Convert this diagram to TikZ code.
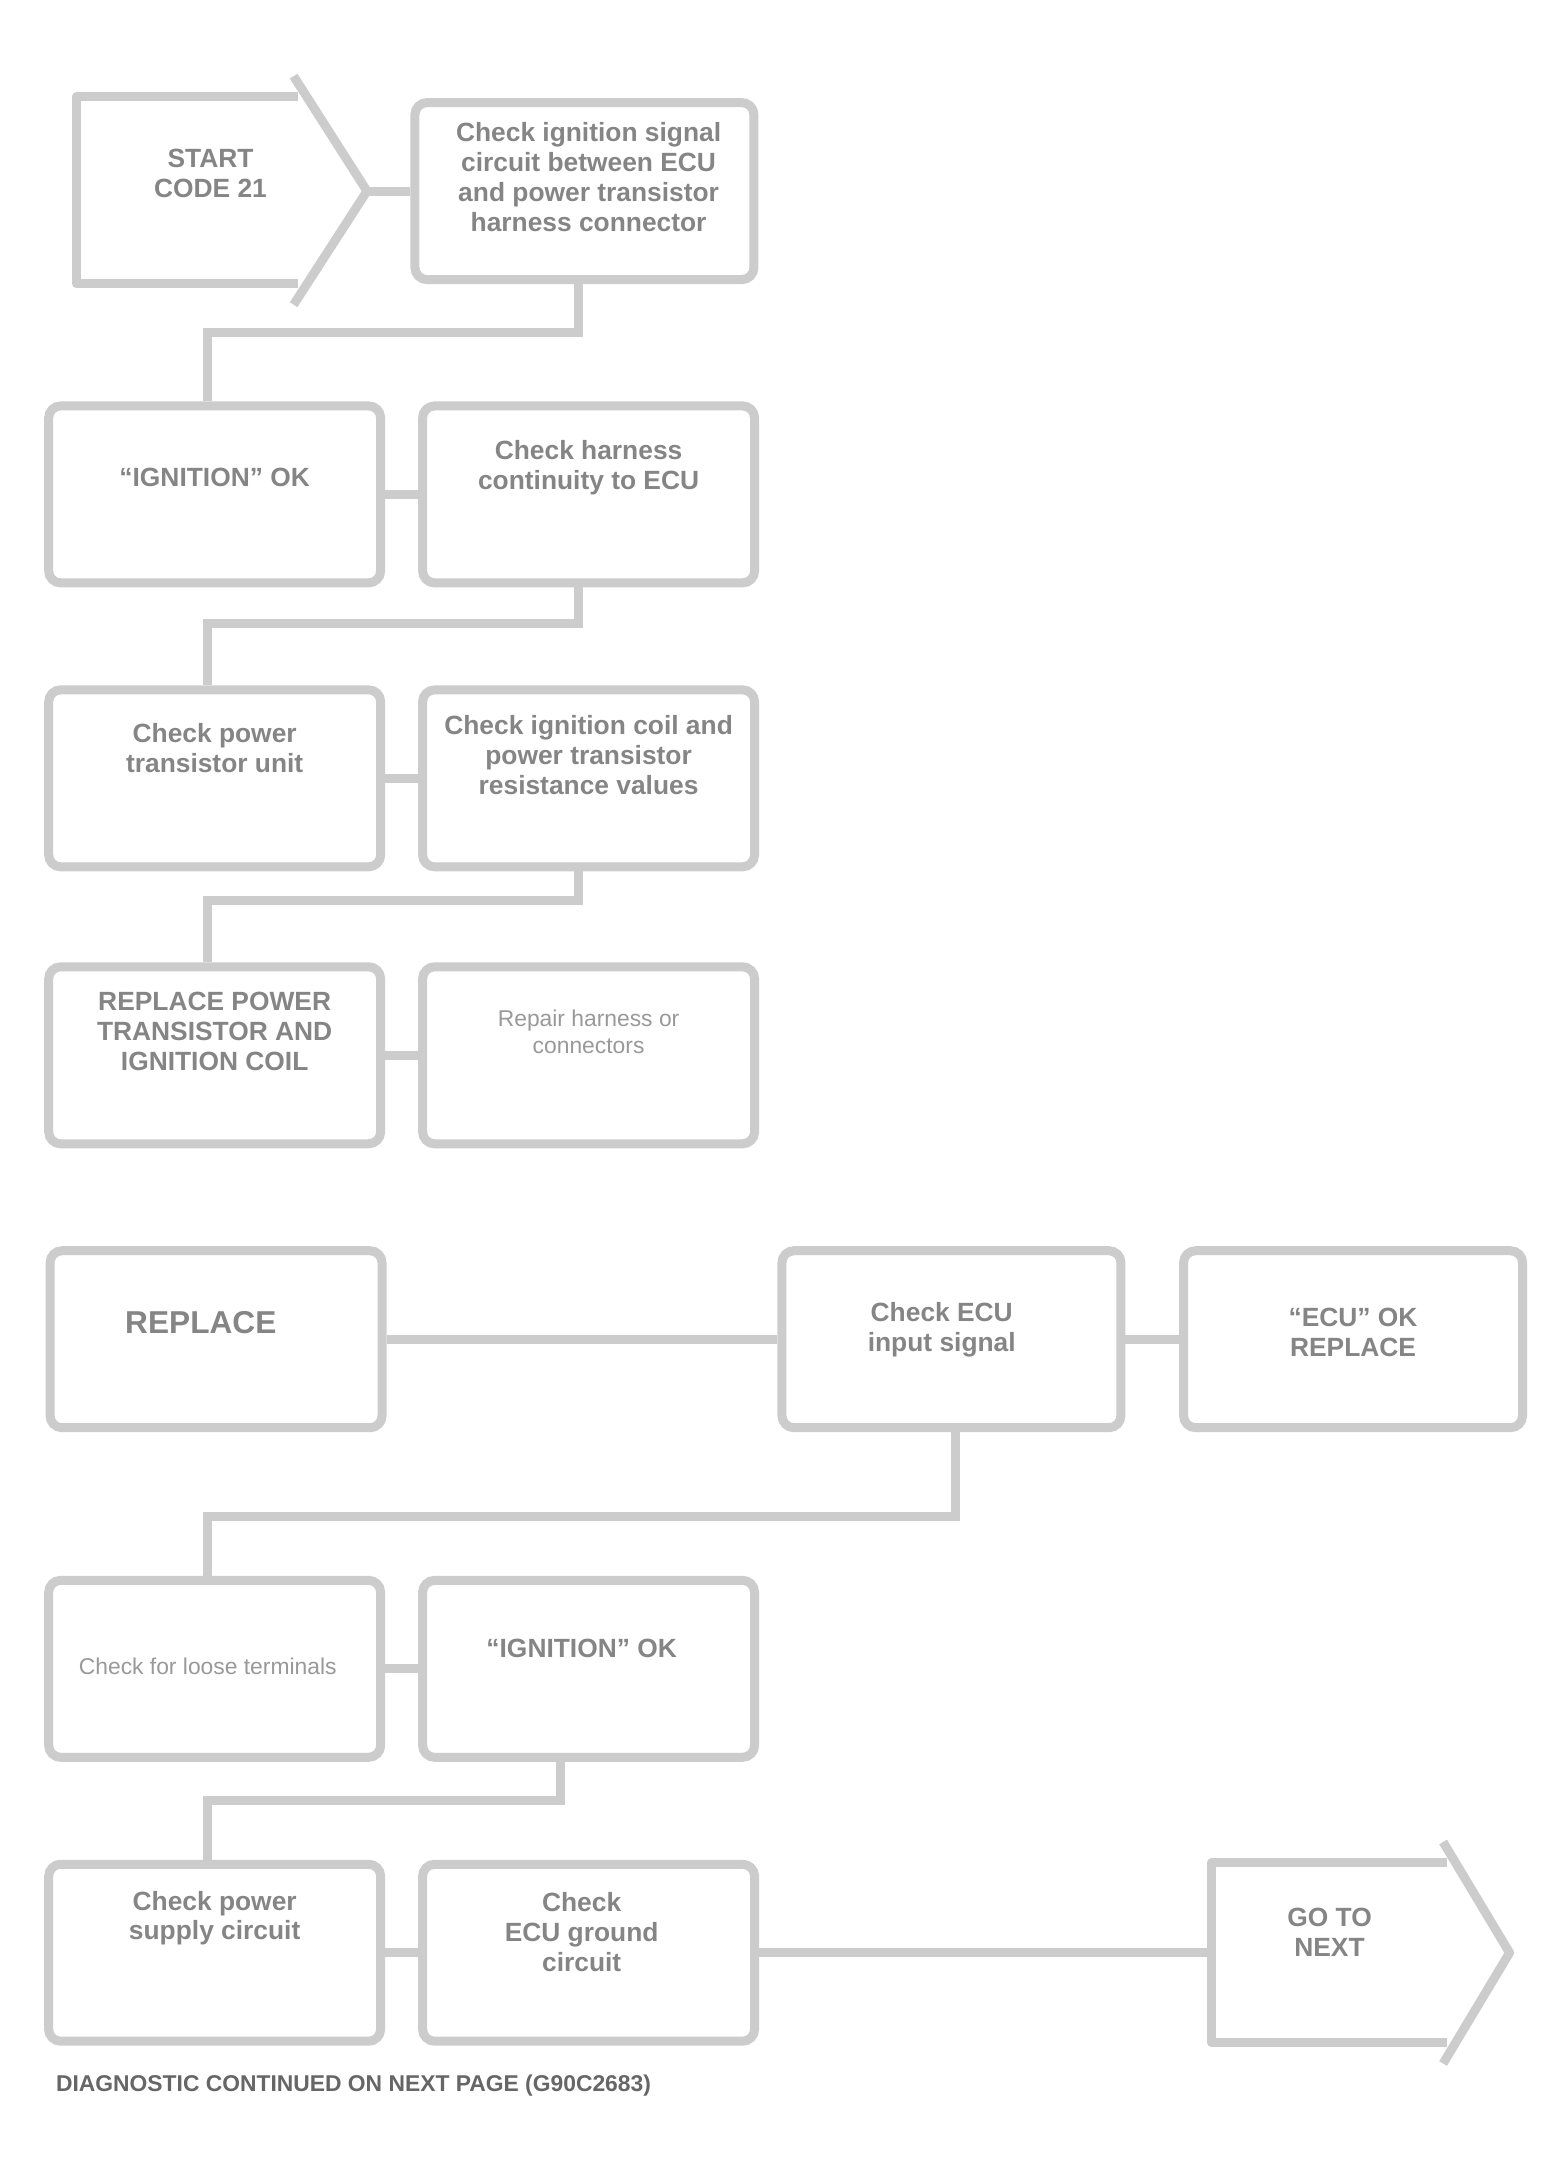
\documentclass[tikz,border=0pt]{standalone}
\usepackage{fontspec}
\setmainfont{Liberation Sans}
\begin{document}
\begin{tikzpicture}[x=0.1385mm,y=-0.1385mm,
  box/.style={draw=black!20, line width=0.9mm, rounded corners=1.2mm,
    minimum width=33.2mm, minimum height=17.7mm, inner sep=0pt},
  wbox/.style={box, minimum width=33.9mm},
  outline/.style={draw=black!20, line width=0.9mm, line join=round},
  conn/.style={draw=black!20, line width=0.9mm},
  txt/.style={font=\fontsize{7.5}{8.5}\selectfont\bfseries, text=black!48, align=center, inner sep=0pt},
  ltxt/.style={font=\fontsize{6.5}{7.5}\selectfont, text=black!40, align=center, inner sep=0pt}]
\useasboundingbox (0,0) rectangle (1132,1577);
\fill[white] (0,0) rectangle (1132,1577);

% ---- row 1
\draw[outline] (215,70) -- (55,70) -- (55,205) -- (215,205);
\draw[outline] (212,55) -- (265,138) -- (212,220);
\coordinate (p1tip) at (265,138);
\node[txt] (p1) at (152,125) {START\\ CODE 21};
\node[wbox] (b1) at (422,138) {};
\node[txt] (t1) at (425,128) {Check ignition signal\\ circuit between ECU\\ and power transistor\\ harness connector};
\draw[conn] (p1tip) -- (b1.west);

% ---- row 2
\node[box] (a2) at (155,357) {};
\node[txt] (ta2) at (155,345) {``IGNITION'' OK};
\node[box] (b2) at (425,357) {};
\node[txt] (tb2) at (425,338) {Check harness\\ continuity to ECU};
\draw[conn] (b1.south -| 418,0) -- (418,240) -- (150,240) -- (a2.north -| 150,0);
\draw[conn] (a2.east) -- (b2.west);

% ---- row 3
\node[box] (a3) at (155,562) {};
\node[txt] (ta3) at (155,540) {Check power\\ transistor unit};
\node[box] (b3) at (425,562) {};
\node[txt] (tb3) at (425,545) {Check ignition coil and\\ power transistor\\ resistance values};
\draw[conn] (b2.south -| 418,0) -- (418,450) -- (150,450) -- (a3.north -| 150,0);
\draw[conn] (a3.east) -- (b3.west);

% ---- row 4
\node[box] (a4) at (155,762) {};
\node[txt] (ta4) at (155,745) {REPLACE POWER\\ TRANSISTOR AND\\ IGNITION COIL};
\node[box] (b4) at (425,762) {};
\node[txt, ltxt] (tb4) at (425,745) {Repair harness or\\ connectors};
\draw[conn] (b3.south -| 418,0) -- (418,650) -- (150,650) -- (a4.north -| 150,0);
\draw[conn] (a4.east) -- (b4.west);

% ---- row 5
\node[box] (a5) at (156,967) {};
\node[txt] (ta5) at (145,955) {\fontsize{9}{10}\selectfont REPLACE};
\node[wbox] (c5) at (687,967) {};
\node[txt] (tc5) at (680,960) {Check ECU\\ input signal};
\node[wbox] (d5) at (977,967) {};
\node[txt] (td5) at (977,962) {``ECU'' OK\\ REPLACE};
\draw[conn] (a5.east) -- (c5.west);
\draw[conn] (c5.east) -- (d5.west);

% ---- row 6
\node[box] (a6) at (155,1205) {};
\node[txt, ltxt] (ta6) at (150,1203) {Check for loose terminals};
\node[box] (b6) at (425,1205) {};
\node[txt] (tb6) at (420,1190) {``IGNITION'' OK};
\draw[conn] (c5.south -| 690,0) -- (690,1095) -- (150,1095) -- (a6.north -| 150,0);
\draw[conn] (a6.east) -- (b6.west);

% ---- row 7
\node[box] (a7) at (155,1410) {};
\node[txt] (ta7) at (155,1385) {Check power\\ supply circuit};
\node[box] (b7) at (425,1410) {};
\node[txt] (tb7) at (420,1395) {Check\\ ECU ground\\ circuit};
\draw[conn] (b6.south -| 405,0) -- (405,1300) -- (150,1300) -- (a7.north -| 150,0);
\draw[conn] (a7.east) -- (b7.west);

\draw[outline] (1045,1345) -- (875,1345) -- (875,1475) -- (1045,1475);
\draw[outline] (1042,1330) -- (1090,1410) -- (1042,1490);
\coordinate (p7in) at (875,1410);
\node[txt] (p7) at (960,1395) {GO TO\\ NEXT};
\draw[conn] (b7.east) -- (p7in);

% ---- footnote
\node[txt, anchor=west, font=\fontsize{6.5}{7.5}\selectfont\bfseries, text=black!60] (foot) at (40,1506) {DIAGNOSTIC CONTINUED ON NEXT PAGE (G90C2683)};
\end{tikzpicture}
\end{document}
